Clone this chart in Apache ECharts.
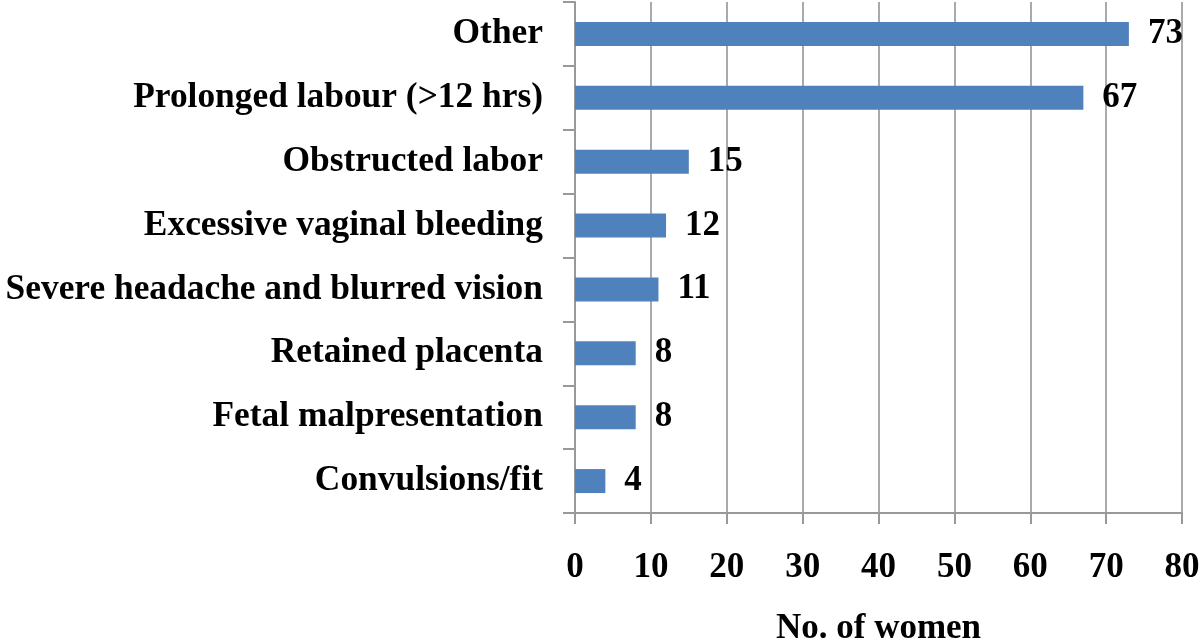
<!DOCTYPE html>
<html><head><meta charset="utf-8">
<script src="https://cdn.jsdelivr.net/npm/echarts@6/dist/echarts.min.js"></script>
<style>html,body{margin:0;padding:0;background:#fff}#c{width:1200px;height:638px}</style>
</head><body><div id="c"></div>
<script>
const categories = ["Convulsions/fit","Fetal malpresentation","Retained placenta","Severe headache and blurred vision","Excessive vaginal bleeding","Obstructed labor","Prolonged labour (>12 hrs)","Other"];
const values = [4,8,8,11,12,15,67,73];
const xTicks = [0,10,20,30,40,50,60,70,80];
const font = "'Liberation Serif','Times New Roman',serif";
const chart = echarts.init(document.getElementById('c'));
chart.setOption({
  animation:false,
  grid:{left:575,right:18,top:2,bottom:125,containLabel:false,outerBoundsMode:'none'},
  xAxis:{type:'value',min:xTicks[0],max:xTicks[xTicks.length-1],interval:10,
    name:'No. of women',nameLocation:'middle',nameGap:98,
    nameTextStyle:{fontFamily:font,fontWeight:'bold',fontSize:35,color:'#000'},
    axisLine:{show:true,lineStyle:{color:'#999',width:2}},
    axisTick:{show:true,length:11,lineStyle:{color:'#999',width:2}},
    splitLine:{show:true,lineStyle:{color:'#aaa',width:2}},
    axisLabel:{margin:37,fontFamily:font,fontWeight:'bold',fontSize:35,color:'#000'}},
  yAxis:{type:'category',data:categories,
    axisLine:{show:true,lineStyle:{color:'#999',width:2}},
    axisTick:{show:true,length:12,lineStyle:{color:'#999',width:2}},
    axisLabel:{margin:32,fontFamily:font,fontWeight:'bold',fontSize:35.4,color:'#000'}},
  series:[{type:'bar',data:values,barWidth:24,
    itemStyle:{color:'#4F81BD'},
    label:{show:true,position:'right',distance:19,fontFamily:font,fontWeight:'bold',fontSize:35,color:'#000'}}]
});
</script></body></html>
